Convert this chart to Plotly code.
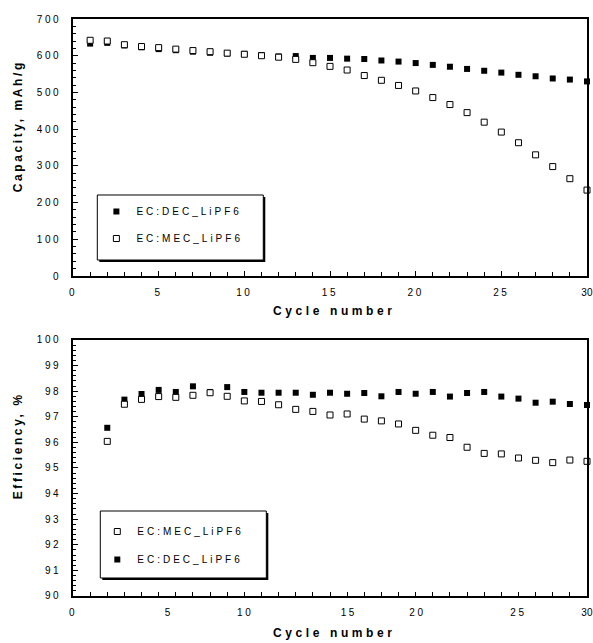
import plotly.graph_objects as go

# ---------------- data ----------------
cycles_cap = list(range(1, 31))
cap_dec = [633, 635, 628, 623, 618, 615, 611, 608, 606, 605, 602, 598, 599, 594, 594,
           592, 591, 587, 584, 580, 575, 570, 564, 559, 554, 548, 544, 538, 535, 530]
cap_mec = [642, 640, 630, 625, 622, 618, 614, 611, 607, 604, 600, 596, 590, 581, 571,
           561, 546, 533, 519, 504, 486, 467, 445, 419, 392, 363, 330, 298, 265, 234]

cycles_eff = list(range(2, 31))
eff_dec = [96.57, 97.67, 97.89, 98.05, 97.97, 98.19, 97.97, 98.16, 97.97, 97.94, 97.94,
           97.94, 97.86, 97.94, 97.90, 97.93, 97.80, 97.97, 97.90, 97.97, 97.79, 97.93,
           97.97, 97.79, 97.71, 97.55, 97.59, 97.50, 97.46]
eff_mec = [96.04, 97.49, 97.68, 97.79, 97.76, 97.84, 97.94, 97.80, 97.62, 97.60, 97.47,
           97.29, 97.21, 97.07, 97.11, 96.91, 96.84, 96.72, 96.47, 96.28, 96.19, 95.81,
           95.57, 95.55, 95.39, 95.30, 95.21, 95.31, 95.26]

cap_ticks = [0, 100, 200, 300, 400, 500, 600, 700]
eff_ticks = [90, 91, 92, 93, 94, 95, 96, 97, 98, 99, 100]
x_ticks_top = [0, 5, 10, 15, 20, 25, 30]
x_labels = ["0", "5", "10", "15", "20", "25", "30"]
# label positions of the lower axis as printed in the source figure
x_label_pos_bottom = [0, 5.6, 10.05, 16.1, 20.1, 26.0, 30]

name_dec = "EC:DEC_LiPF6"
name_mec = "EC:MEC_LiPF6"

FONT = "Liberation Sans, Arial, sans-serif"


def sp(t, s=2.6):
    return f'<span style="letter-spacing:{s}px">{t}</span>'


# x labels: the last one sits at the right edge, so keep it tight enough to fit
x_ticktext = [sp(t) for t in x_labels[:-1]] + [sp(x_labels[-1], 0.3)]

fig = go.Figure()

# top chart
fig.add_trace(go.Scatter(
    x=cycles_cap, y=cap_dec, mode="markers", name=sp(name_dec, 3),
    marker=dict(symbol="square", size=6, color="black", line=dict(width=0)),
    xaxis="x", yaxis="y", legend="legend", legendgroup="a", legendrank=1,
    cliponaxis=False))
fig.add_trace(go.Scatter(
    x=cycles_cap, y=cap_mec, mode="markers", name=sp(name_mec, 3),
    marker=dict(symbol="square", size=6, color="white", line=dict(width=1, color="black")),
    xaxis="x", yaxis="y", legend="legend", legendgroup="b", legendrank=2,
    cliponaxis=False))

# bottom chart
fig.add_trace(go.Scatter(
    x=cycles_eff, y=eff_dec, mode="markers", name=sp(name_dec, 3),
    marker=dict(symbol="square", size=6, color="black", line=dict(width=0)),
    xaxis="x2", yaxis="y2", legend="legend2", legendgroup="c", legendrank=2,
    cliponaxis=False))
fig.add_trace(go.Scatter(
    x=cycles_eff, y=eff_mec, mode="markers", name=sp(name_mec, 3),
    marker=dict(symbol="square", size=6, color="white", line=dict(width=1, color="black")),
    xaxis="x2", yaxis="y2", legend="legend2", legendgroup="d", legendrank=1,
    cliponaxis=False))

axis_common = dict(showgrid=False, zeroline=False, showline=True, linecolor="black",
                   linewidth=1.5, mirror=True, ticks="inside", tickcolor="black",
                   tickwidth=1, ticklabeloverflow="allow", automargin=False,
                   tickfont=dict(family=FONT, size=10, color="black"))

fig.update_layout(
    width=593, height=643,
    margin=dict(l=72.7, r=6.3, t=19, b=47, autoexpand=False),
    paper_bgcolor="white", plot_bgcolor="white",
    showlegend=True,
    xaxis=dict(**axis_common, domain=[0, 1], anchor="y", range=[0, 30],
               tickvals=x_ticks_top, ticktext=x_ticktext, ticklen=5,
               ticklabelstandoff=6,
               minor=dict(dtick=1, tick0=0, ticks="inside", ticklen=4, tickcolor="black")),
    yaxis=dict(**axis_common, domain=[0.5546, 1], anchor="x", range=[0, 700],
               tickvals=cap_ticks, ticktext=[sp(t) for t in cap_ticks], ticklen=5,
               ticklabelstandoff=8,
               minor=dict(dtick=20, tick0=0, ticks="inside", ticklen=3, tickcolor="black")),
    xaxis2=dict(**axis_common, domain=[0, 1], anchor="y2", range=[0, 30],
                tickvals=x_label_pos_bottom, ticktext=x_ticktext, ticklen=0,
                ticklabelstandoff=6,
                minor=dict(dtick=1, tick0=0, ticks="inside", ticklen=4, tickcolor="black")),
    yaxis2=dict(**axis_common, domain=[0, 0.4437], anchor="x2", range=[90, 100],
                tickvals=eff_ticks, ticktext=[sp(t) for t in eff_ticks], ticklen=5,
                ticklabelstandoff=8,
                minor=dict(dtick=0.2, tick0=90, ticks="inside", ticklen=3, tickcolor="black")),
    legend=dict(x=0.0455, y=0.6915, xanchor="left", yanchor="top",
                bgcolor="rgba(0,0,0,0)", borderwidth=0, tracegroupgap=8,
                font=dict(family=FONT, size=10, color="black")),
    legend2=dict(x=0.0473, y=0.1369, xanchor="left", yanchor="top",
                 bgcolor="rgba(0,0,0,0)", borderwidth=0, tracegroupgap=9,
                 font=dict(family=FONT, size=10, color="black")),
)

# legend frames with a small drop shadow
sx, sy = 2 / 514, 2 / 577
for (x0, x1, y0, y1) in [(0.0473, 0.3702, 0.5823, 0.695), (0.0531, 0.3761, 0.0312, 0.1473)]:
    fig.add_shape(type="rect", xref="paper", yref="paper", x0=x0 + sx, x1=x1 + sx,
                  y0=y0 - sy, y1=y1 - sy, fillcolor="black", line=dict(width=0), layer="below")
    fig.add_shape(type="rect", xref="paper", yref="paper", x0=x0, x1=x1, y0=y0, y1=y1,
                  fillcolor="white", line=dict(width=1, color="black"), layer="below")

title_font = dict(family=FONT, size=12, color="black")
ann = [
    dict(text="<b>" + sp("Capacity, mAh/g", 2.6) + "</b>", x=-0.1064, y=0.8146, textangle=-90),
    dict(text="<b>" + sp("Efficiency, %", 2.6) + "</b>", x=-0.1064, y=0.26, textangle=-90),
    dict(text="<b>" + sp("Cycle number", 3.6) + "</b>", x=0.5086, y=0.4939),
    dict(text="<b>" + sp("Cycle number", 3.6) + "</b>", x=0.5086, y=-0.0641),
]
for a in ann:
    fig.add_annotation(xref="paper", yref="paper", showarrow=False, font=title_font,
                       xanchor="center", yanchor="middle", **a)

fig.write_html("out.html")
